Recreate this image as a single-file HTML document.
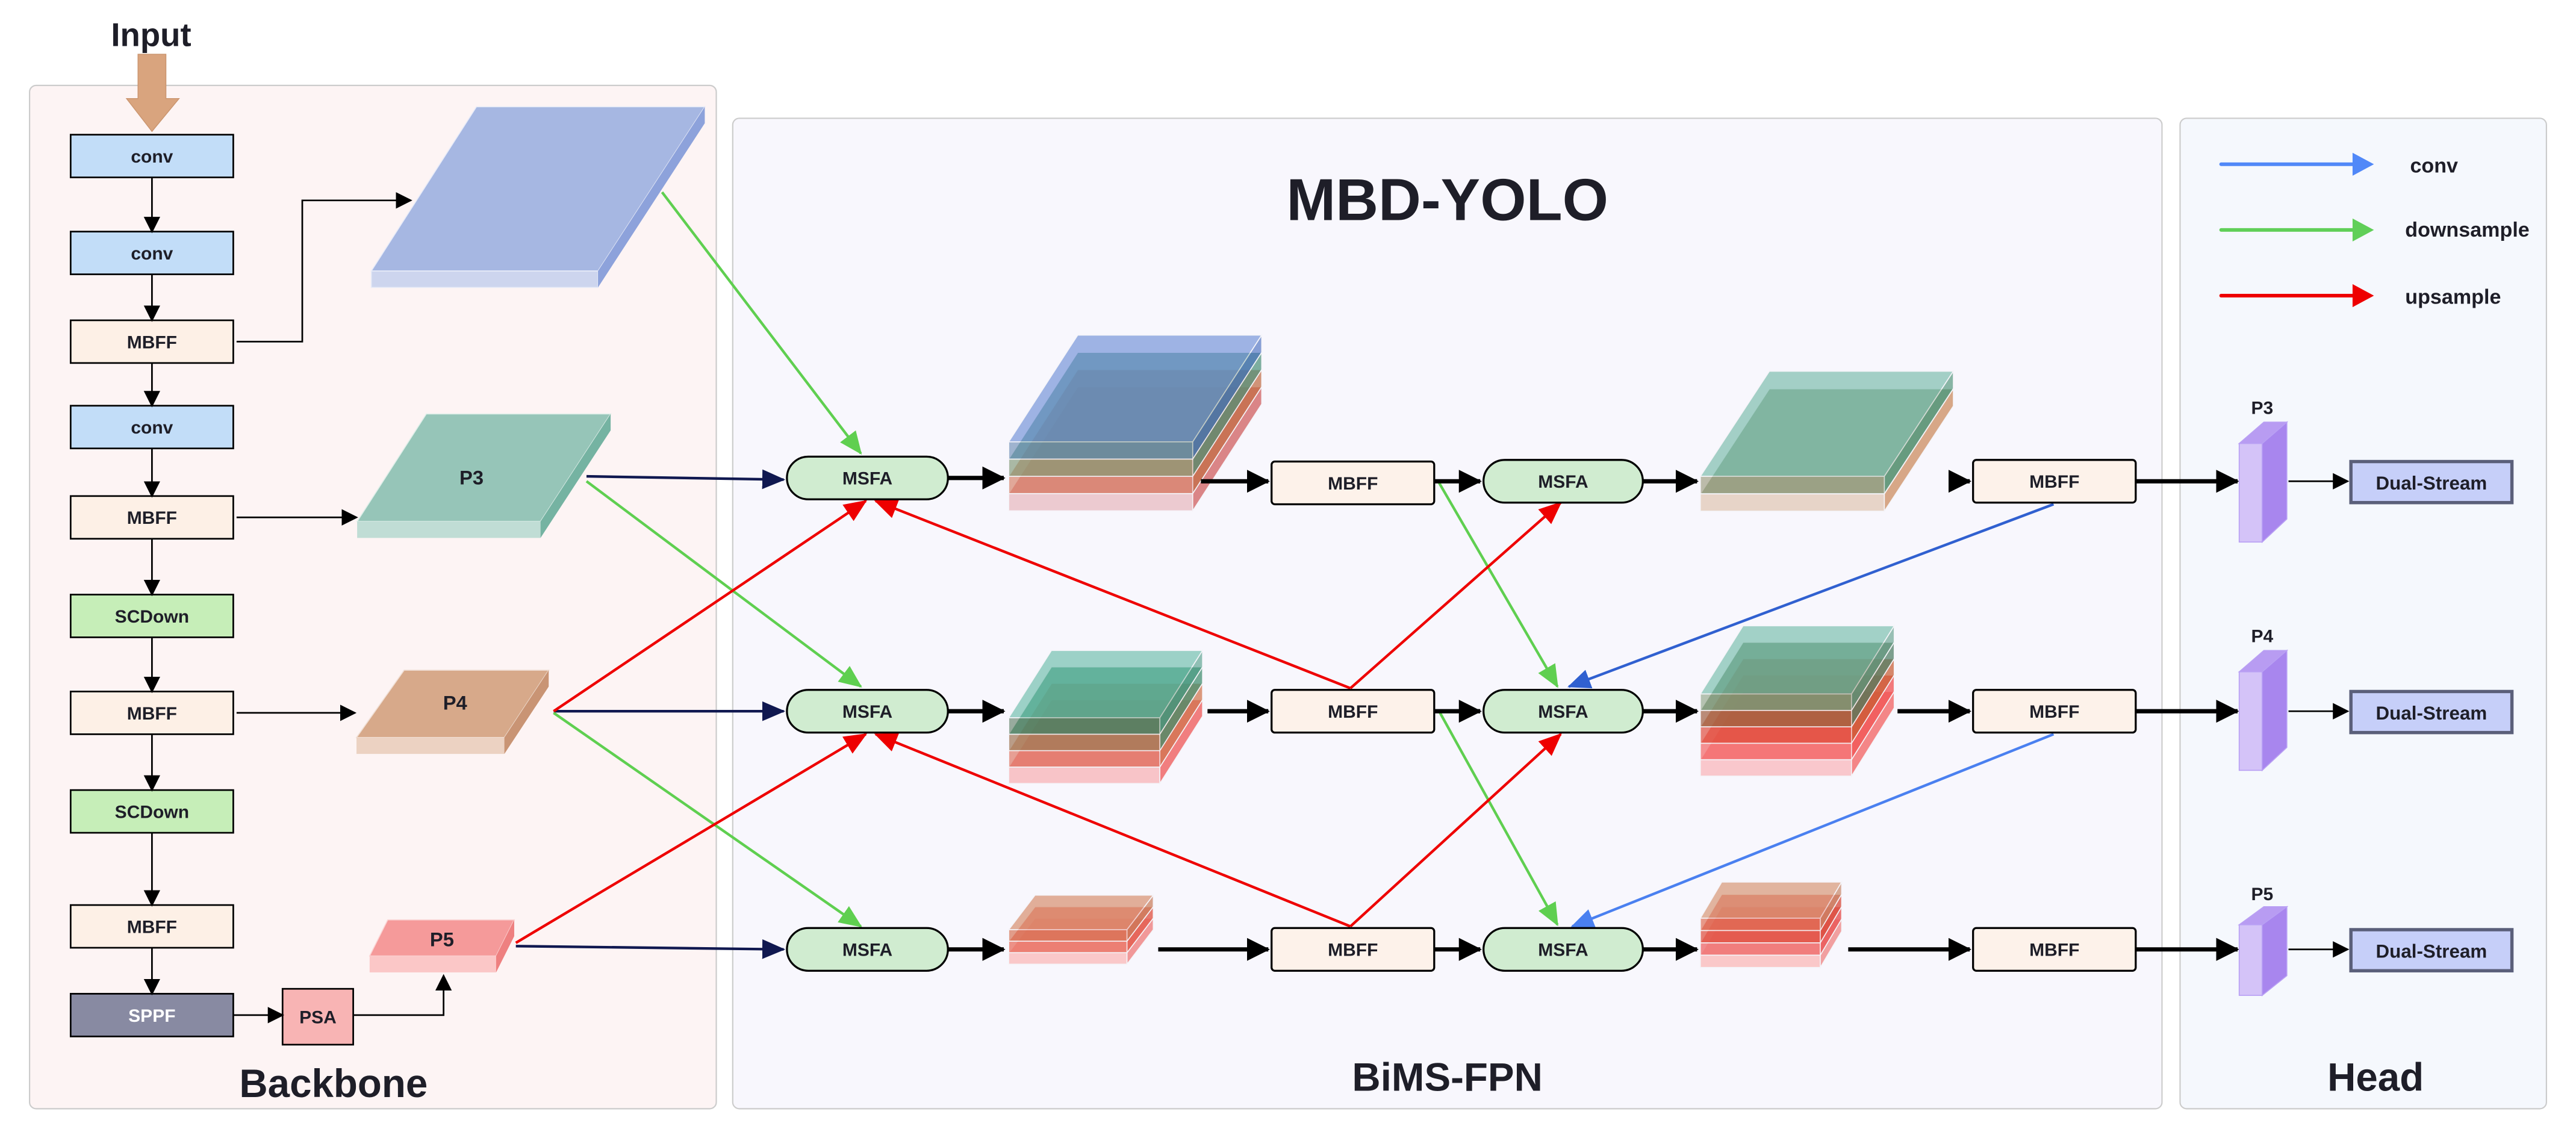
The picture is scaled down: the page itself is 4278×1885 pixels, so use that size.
<!DOCTYPE html>
<html><head><meta charset="utf-8"><style>
html,body{margin:0;padding:0;background:#fff;}
svg{display:block;}
text{font-family:"Liberation Sans",sans-serif;font-weight:bold;fill:#1e1e28;}
</style></head><body>
<svg width="4278" height="1885" viewBox="0 0 1568 691" preserveAspectRatio="none" xmlns="http://www.w3.org/2000/svg">
<defs>
<marker id="mk" markerUnits="userSpaceOnUse" markerWidth="10" markerHeight="10" refX="9" refY="5" orient="auto"><path d="M0,0 L10,5 L0,10 z" fill="#000"/></marker>
<marker id="mkb" markerUnits="userSpaceOnUse" markerWidth="14" markerHeight="14" refX="13" refY="7" orient="auto"><path d="M0,0 L14,7 L0,14 z" fill="#000"/></marker>
<marker id="mkn" markerUnits="userSpaceOnUse" markerWidth="14" markerHeight="12" refX="13" refY="6" orient="auto"><path d="M0,0 L14,6 L0,12 z" fill="#101850"/></marker>
<marker id="mkg" markerUnits="userSpaceOnUse" markerWidth="14" markerHeight="12" refX="13" refY="6" orient="auto"><path d="M0,0 L14,6 L0,12 z" fill="#5fcf50"/></marker>
<marker id="mkr" markerUnits="userSpaceOnUse" markerWidth="14" markerHeight="12" refX="13" refY="6" orient="auto"><path d="M0,0 L14,6 L0,12 z" fill="#ee0000"/></marker>
<marker id="mkbl" markerUnits="userSpaceOnUse" markerWidth="14" markerHeight="12" refX="13" refY="6" orient="auto"><path d="M0,0 L14,6 L0,12 z" fill="#3060d0"/></marker>
<marker id="mkbl2" markerUnits="userSpaceOnUse" markerWidth="14" markerHeight="12" refX="13" refY="6" orient="auto"><path d="M0,0 L14,6 L0,12 z" fill="#4a80f0"/></marker>
</defs>

<!-- panels -->
<rect x="18" y="52" width="418" height="623" rx="4" fill="#fdf4f4" stroke="#ccc" stroke-width="0.8"/>
<rect x="446" y="72" width="870" height="603" rx="4" fill="#f8f7fd" stroke="#ccc" stroke-width="0.8"/>
<rect x="1327" y="72" width="223" height="603" rx="4" fill="#f5f8fd" stroke="#ccc" stroke-width="0.8"/>

<!-- Input -->
<text x="92" y="28" font-size="20" text-anchor="middle">Input</text>
<polygon points="84,33 101,33 101,60 109,60 92.5,80 77,60 84,60" fill="#d9a47e" stroke="#c9946e" stroke-width="0.5"/>

<!-- backbone boxes -->
<g stroke="#000" stroke-width="1" font-size="11">
<rect x="43" y="82" width="99" height="26" fill="#c2ddf8"/>
<rect x="43" y="141" width="99" height="26" fill="#c2ddf8"/>
<rect x="43" y="195" width="99" height="26" fill="#fdf0e6"/>
<rect x="43" y="247" width="99" height="26" fill="#c2ddf8"/>
<rect x="43" y="302" width="99" height="26" fill="#fdf0e6"/>
<rect x="43" y="362" width="99" height="26" fill="#c6eeb8"/>
<rect x="43" y="421" width="99" height="26" fill="#fdf0e6"/>
<rect x="43" y="481" width="99" height="26" fill="#c6eeb8"/>
<rect x="43" y="551" width="99" height="26" fill="#fdf0e6"/>
<rect x="43" y="605" width="99" height="26" fill="#888aa2"/>
<rect x="172" y="602" width="43" height="34" fill="#f8b4b4"/>
</g>
<g font-size="11" text-anchor="middle">
<text x="92.5" y="99">conv</text>
<text x="92.5" y="158">conv</text>
<text x="92.5" y="212">MBFF</text>
<text x="92.5" y="264">conv</text>
<text x="92.5" y="319">MBFF</text>
<text x="92.5" y="379">SCDown</text>
<text x="92.5" y="438">MBFF</text>
<text x="92.5" y="498">SCDown</text>
<text x="92.5" y="568">MBFF</text>
<text x="92.5" y="622" style="fill:#fff">SPPF</text>
<text x="193.5" y="623">PSA</text>
</g>
<!-- backbone arrows -->
<g stroke="#000" stroke-width="1" fill="none" marker-end="url(#mk)">
<line x1="92.5" y1="108" x2="92.5" y2="141"/>
<line x1="92.5" y1="167" x2="92.5" y2="195"/>
<line x1="92.5" y1="221" x2="92.5" y2="247"/>
<line x1="92.5" y1="273" x2="92.5" y2="302"/>
<line x1="92.5" y1="328" x2="92.5" y2="362"/>
<line x1="92.5" y1="388" x2="92.5" y2="421"/>
<line x1="92.5" y1="447" x2="92.5" y2="481"/>
<line x1="92.5" y1="507" x2="92.5" y2="551"/>
<line x1="92.5" y1="577" x2="92.5" y2="605"/>
<polyline points="144,208 184,208 184,122 250,122"/>
<line x1="144" y1="315" x2="217" y2="315"/>
<line x1="144" y1="434" x2="216" y2="434"/>
<line x1="142" y1="618" x2="172" y2="618"/>
<polyline points="215,618 270,618 270,594"/>
</g>

<!-- slabs -->
<polygon points="290,65 429,65 364,165 226,165" fill="#a6b7e2" stroke="#e8ecf8" stroke-width="0.6"/>
<rect x="226" y="165" width="138" height="10" fill="#cdd5ee" stroke="#e8ecf8" stroke-width="0.6"/>
<polygon points="364,165 429,65 429,75 364,175" fill="#8da2db"/>

<polygon points="259.5,252 371.7,252 329,317.5 217.4,317.5" fill="#96c5b8" stroke="#e0efea" stroke-width="0.6"/>
<rect x="217.4" y="317.5" width="111.6" height="10" fill="#c0ddd5"/>
<polygon points="329,317.5 371.7,252 371.7,262 329,327.5" fill="#75b3a2"/>
<text x="287" y="295" font-size="12" text-anchor="middle">P3</text>

<polygon points="246,408 334,408 307,449 217,449" fill="#d7a98a" stroke="#f0e0d6" stroke-width="0.6"/>
<rect x="217" y="449" width="90" height="10" fill="#ecd2c2"/>
<polygon points="307,449 334,408 334,418 307,459" fill="#c99474"/>
<text x="277" y="432" font-size="12" text-anchor="middle">P4</text>

<polygon points="236,560 313,560 302,582 225,582" fill="#f59a9a" stroke="#fbd6d6" stroke-width="0.6"/>
<rect x="225" y="582" width="77" height="10" fill="#fbc7c7"/>
<polygon points="302,582 313,560 313,570 302,592" fill="#ee8080"/>
<text x="269" y="576" font-size="12" text-anchor="middle">P5</text>

<!-- titles -->
<text x="881" y="134" font-size="36" text-anchor="middle">MBD-YOLO</text>
<text x="881" y="664" font-size="24" text-anchor="middle">BiMS-FPN</text>
<text x="203" y="668" font-size="24" text-anchor="middle">Backbone</text>
<text x="1446" y="664" font-size="24" text-anchor="middle">Head</text>

<!-- stacks: S1 row1 (drawn bottom layer first) -->
<g stroke="#f4f4f8" stroke-width="0.6">
<g transform="translate(0,31.5)" opacity="0.75"><polygon points="656,204 768,204 726,269 614,269" fill="#d86868"/><rect x="614" y="269" width="112" height="10.5" fill="#e8bcc2"/><polygon points="726,269 768,204 768,214.5 726,279.5" fill="#d06060"/></g>
<g transform="translate(0,21)" opacity="0.7"><polygon points="656,204 768,204 726,269 614,269" fill="#c8704a"/><rect x="614" y="269" width="112" height="10.5" fill="#d88870"/><polygon points="726,269 768,204 768,214.5 726,279.5" fill="#c06a40"/></g>
<g transform="translate(0,10.5)" opacity="0.7"><polygon points="656,204 768,204 726,269 614,269" fill="#3e8870"/><rect x="614" y="269" width="112" height="10.5" fill="#8aa080"/><polygon points="726,269 768,204 768,214.5 726,279.5" fill="#4a9078"/></g>
<g opacity="0.65"><polygon points="656,204 768,204 726,269 614,269" fill="#6f90d8"/><rect x="614" y="269" width="112" height="10.5" fill="#7090b8"/><polygon points="726,269 768,204 768,214.5 726,279.5" fill="#4a70c0"/></g>
</g>

<!-- S1 row2 -->
<g stroke="#f4f4f8" stroke-width="0.6">
<g transform="translate(0,30)" opacity="0.8"><polygon points="640,396 732,396 706,437 614,437" fill="#f06e6e"/><rect x="614" y="437" width="92" height="10" fill="#f8b8bc"/><polygon points="706,437 732,396 732,406 706,447" fill="#f06060"/></g>
<g transform="translate(0,20)" opacity="0.7"><polygon points="640,396 732,396 706,437 614,437" fill="#d4845a"/><rect x="614" y="437" width="92" height="10" fill="#e07a68"/><polygon points="706,437 732,396 732,406 706,447" fill="#d07048"/></g>
<g transform="translate(0,10)" opacity="0.7"><polygon points="640,396 732,396 706,437 614,437" fill="#2f8a66"/><rect x="614" y="437" width="92" height="10" fill="#a07858"/><polygon points="706,437 732,396 732,406 706,447" fill="#3a8a6a"/></g>
<g opacity="0.6"><polygon points="640,396 732,396 706,437 614,437" fill="#60b8a4"/><rect x="614" y="437" width="92" height="10" fill="#5a7a60"/><polygon points="706,437 732,396 732,406 706,447" fill="#4a9a84"/></g>
</g>

<!-- S1 row3 -->
<g stroke="#f4f4f8" stroke-width="0.6">
<g transform="translate(0,14)" opacity="0.85"><polygon points="630,545 702,545 686,566 614,566" fill="#f8a0a0"/><rect x="614" y="566" width="72" height="7" fill="#fbc0c0"/><polygon points="686,566 702,545 702,552 686,573" fill="#f08888"/></g>
<g transform="translate(0,7)" opacity="0.75"><polygon points="630,545 702,545 686,566 614,566" fill="#e65a48"/><rect x="614" y="566" width="72" height="7" fill="#e87060"/><polygon points="686,566 702,545 702,552 686,573" fill="#e05040"/></g>
<g opacity="0.7"><polygon points="630,545 702,545 686,566 614,566" fill="#d89070"/><rect x="614" y="566" width="72" height="7" fill="#d8785a"/><polygon points="686,566 702,545 702,552 686,573" fill="#c87a58"/></g>
</g>

<!-- S2 row1 -->
<g stroke="#f4f4f8" stroke-width="0.6">
<g transform="translate(0,10.7)" opacity="0.8"><polygon points="1077,226 1189,226 1147,290 1035,290" fill="#6a8a60"/><rect x="1035" y="290" width="112" height="10.5" fill="#e4ccbc"/><polygon points="1147,290 1189,226 1189,236.5 1147,300.5" fill="#d0946a"/></g>
<g opacity="0.7"><polygon points="1077,226 1189,226 1147,290 1035,290" fill="#80bfb0"/><rect x="1035" y="290" width="112" height="10.5" fill="#a4a288"/><polygon points="1147,290 1189,226 1189,236.5 1147,300.5" fill="#5a9a80"/></g>
</g>

<!-- S2 row2 -->
<g stroke="#f4f4f8" stroke-width="0.6">
<g transform="translate(0,40)" opacity="0.8"><polygon points="1061,381 1153,381 1127,422.5 1035,422.5" fill="#f87878"/><rect x="1035" y="422.5" width="92" height="10" fill="#fabcc0"/><polygon points="1127,422.5 1153,381 1153,391 1127,432.5" fill="#f46a6a"/></g>
<g transform="translate(0,30)" opacity="0.75"><polygon points="1061,381 1153,381 1127,422.5 1035,422.5" fill="#f05a50"/><rect x="1035" y="422.5" width="92" height="10" fill="#f46e6e"/><polygon points="1127,422.5 1153,381 1153,391 1127,432.5" fill="#f05050"/></g>
<g transform="translate(0,20)" opacity="0.7"><polygon points="1061,381 1153,381 1127,422.5 1035,422.5" fill="#c86a40"/><rect x="1035" y="422.5" width="92" height="10" fill="#e05040"/><polygon points="1127,422.5 1153,381 1153,391 1127,432.5" fill="#c85a30"/></g>
<g transform="translate(0,10)" opacity="0.7"><polygon points="1061,381 1153,381 1127,422.5 1035,422.5" fill="#5a7a58"/><rect x="1035" y="422.5" width="92" height="10" fill="#a05e40"/><polygon points="1127,422.5 1153,381 1153,391 1127,432.5" fill="#4a7a60"/></g>
<g opacity="0.6"><polygon points="1061,381 1153,381 1127,422.5 1035,422.5" fill="#6ab8a4"/><rect x="1035" y="422.5" width="92" height="10" fill="#8aa080"/><polygon points="1127,422.5 1153,381 1153,391 1127,432.5" fill="#5a9a84"/></g>
</g>

<!-- S2 row3 -->
<g stroke="#f4f4f8" stroke-width="0.6">
<g transform="translate(0,22.5)" opacity="0.85"><polygon points="1048,537 1121,537 1108,559 1035,559" fill="#f8a8a8"/><rect x="1035" y="559" width="73" height="7.5" fill="#fbc0c0"/><polygon points="1108,559 1121,537 1121,544.5 1108,566.5" fill="#f09090"/></g>
<g transform="translate(0,15)" opacity="0.8"><polygon points="1048,537 1121,537 1108,559 1035,559" fill="#f06060"/><rect x="1035" y="559" width="73" height="7.5" fill="#f07070"/><polygon points="1108,559 1121,537 1121,544.5 1108,566.5" fill="#e85050"/></g>
<g transform="translate(0,7.5)" opacity="0.75"><polygon points="1048,537 1121,537 1108,559 1035,559" fill="#e05040"/><rect x="1035" y="559" width="73" height="7.5" fill="#e05545"/><polygon points="1108,559 1121,537 1121,544.5 1108,566.5" fill="#d84838"/></g>
<g opacity="0.7"><polygon points="1048,537 1121,537 1108,559 1035,559" fill="#d89878"/><rect x="1035" y="559" width="73" height="7.5" fill="#e07058"/><polygon points="1108,559 1121,537 1121,544.5 1108,566.5" fill="#c88868"/></g>
</g>

<!-- colored connectors -->
<g stroke-width="1.6" fill="none">
<line x1="357" y1="290" x2="477" y2="292" stroke="#101850" marker-end="url(#mkn)"/>
<line x1="337" y1="433" x2="477" y2="433" stroke="#101850" marker-end="url(#mkn)"/>
<line x1="314" y1="576" x2="477" y2="578" stroke="#101850" marker-end="url(#mkn)"/>

<line x1="403" y1="117" x2="524" y2="276" stroke="#5fcf50" marker-end="url(#mkg)"/>
<line x1="357" y1="293" x2="524" y2="418" stroke="#5fcf50" marker-end="url(#mkg)"/>
<line x1="337" y1="434" x2="524" y2="564" stroke="#5fcf50" marker-end="url(#mkg)"/>
<line x1="876" y1="294" x2="948" y2="418" stroke="#5fcf50" marker-end="url(#mkg)"/>
<line x1="876" y1="433" x2="948" y2="563" stroke="#5fcf50" marker-end="url(#mkg)"/>

<line x1="337" y1="433" x2="527" y2="305" stroke="#ee0000" marker-end="url(#mkr)"/>
<line x1="314" y1="574" x2="527" y2="447" stroke="#ee0000" marker-end="url(#mkr)"/>
<line x1="822" y1="419" x2="533" y2="305" stroke="#ee0000" marker-end="url(#mkr)"/>
<line x1="822" y1="564" x2="533" y2="447" stroke="#ee0000" marker-end="url(#mkr)"/>
<line x1="822" y1="419" x2="950" y2="306" stroke="#ee0000" marker-end="url(#mkr)"/>
<line x1="822" y1="564" x2="950" y2="447" stroke="#ee0000" marker-end="url(#mkr)"/>

<line x1="1250" y1="307" x2="955" y2="418" stroke="#3060d0" marker-end="url(#mkbl)"/>
<line x1="1250" y1="447" x2="957" y2="564" stroke="#4a80f0" marker-end="url(#mkbl2)"/>
</g>

<!-- black thick arrows -->
<g stroke="#000" stroke-width="2.6" fill="none" marker-end="url(#mkb)">
<line x1="577" y1="291" x2="611" y2="291"/>
<line x1="577" y1="433" x2="611" y2="433"/>
<line x1="577" y1="578" x2="611" y2="578"/>
<line x1="731" y1="293" x2="772" y2="293"/>
<line x1="735" y1="433" x2="772" y2="433"/>
<line x1="705" y1="578" x2="772" y2="578"/>
<line x1="873" y1="293" x2="901" y2="293"/>
<line x1="873" y1="433" x2="901" y2="433"/>
<line x1="873" y1="578" x2="901" y2="578"/>
<line x1="1000" y1="293" x2="1033" y2="293"/>
<line x1="1000" y1="433" x2="1033" y2="433"/>
<line x1="1000" y1="578" x2="1033" y2="578"/>
<line x1="1187" y1="293" x2="1199" y2="293"/>
<line x1="1155" y1="433" x2="1199" y2="433"/>
<line x1="1125" y1="578" x2="1199" y2="578"/>
<line x1="1300" y1="293" x2="1362" y2="293"/>
<line x1="1300" y1="433" x2="1362" y2="433"/>
<line x1="1300" y1="578" x2="1362" y2="578"/>
</g>

<!-- MSFA / MBFF nodes -->
<g stroke="#000" stroke-width="1.2">
<rect x="479" y="278" width="98" height="26" rx="13" fill="#d0ecd0"/>
<rect x="479" y="420" width="98" height="26" rx="13" fill="#d0ecd0"/>
<rect x="479" y="565" width="98" height="26" rx="13" fill="#d0ecd0"/>
<rect x="903" y="280" width="97" height="26" rx="13" fill="#d0ecd0"/>
<rect x="903" y="420" width="97" height="26" rx="13" fill="#d0ecd0"/>
<rect x="903" y="565" width="97" height="26" rx="13" fill="#d0ecd0"/>
<rect x="774" y="281" width="99" height="26" rx="2" fill="#fdf2ea"/>
<rect x="774" y="420" width="99" height="26" rx="2" fill="#fdf2ea"/>
<rect x="774" y="565" width="99" height="26" rx="2" fill="#fdf2ea"/>
<rect x="1201" y="280" width="99" height="26" rx="2" fill="#fdf2ea"/>
<rect x="1201" y="420" width="99" height="26" rx="2" fill="#fdf2ea"/>
<rect x="1201" y="565" width="99" height="26" rx="2" fill="#fdf2ea"/>
</g>
<g font-size="11" text-anchor="middle">
<text x="528" y="295">MSFA</text>
<text x="528" y="437">MSFA</text>
<text x="528" y="582">MSFA</text>
<text x="951.5" y="297">MSFA</text>
<text x="951.5" y="437">MSFA</text>
<text x="951.5" y="582">MSFA</text>
<text x="823.5" y="298">MBFF</text>
<text x="823.5" y="437">MBFF</text>
<text x="823.5" y="582">MBFF</text>
<text x="1250.5" y="297">MBFF</text>
<text x="1250.5" y="437">MBFF</text>
<text x="1250.5" y="582">MBFF</text>
</g>

<!-- legend -->
<g stroke-width="2.2" stroke-linecap="round">
<line x1="1352" y1="100" x2="1434" y2="100" stroke="#5088f8"/>
<line x1="1352" y1="140" x2="1434" y2="140" stroke="#60cf58"/>
<line x1="1352" y1="180" x2="1434" y2="180" stroke="#ee0000"/>
</g>
<polygon points="1432,93 1445,100 1432,107" fill="#5088f8"/>
<polygon points="1432,133 1445,140 1432,147" fill="#60cf58"/>
<polygon points="1432,173 1445,180 1432,187" fill="#ee0000"/>
<g font-size="12.5">
<text x="1467" y="105">conv</text>
<text x="1464" y="144">downsample</text>
<text x="1464" y="185">upsample</text>
</g>

<!-- head prisms -->
<g stroke="#b9a0f4" stroke-width="0.6">
<polygon points="1363,270 1378,257 1392,257 1377,270" fill="#b89cf2"/>
<rect x="1363" y="270" width="14" height="60" fill="#d4c3f8"/>
<polygon points="1377,270 1392,257 1392,316 1377,330" fill="#a886ee"/>
<polygon points="1363,409 1378,396 1392,396 1377,409" fill="#b89cf2"/>
<rect x="1363" y="409" width="14" height="60" fill="#d4c3f8"/>
<polygon points="1377,409 1392,396 1392,455 1377,469" fill="#a886ee"/>
<polygon points="1363,563 1378,552 1392,552 1377,563" fill="#b89cf2"/>
<rect x="1363" y="563" width="14" height="43" fill="#d4c3f8"/>
<polygon points="1377,563 1392,552 1392,594 1377,606" fill="#a886ee"/>
</g>
<g font-size="11" text-anchor="middle">
<text x="1377" y="252">P3</text>
<text x="1377" y="391">P4</text>
<text x="1377" y="548">P5</text>
</g>
<g stroke="#000" stroke-width="1" marker-end="url(#mk)">
<line x1="1393" y1="293" x2="1429" y2="293"/>
<line x1="1393" y1="433" x2="1429" y2="433"/>
<line x1="1393" y1="578" x2="1429" y2="578"/>
</g>
<g fill="#c6cff9" stroke="#5a5f7a" stroke-width="2">
<rect x="1431" y="281" width="98" height="25"/>
<rect x="1431" y="421" width="98" height="25"/>
<rect x="1431" y="566" width="98" height="25"/>
</g>
<g font-size="11.5" text-anchor="middle">
<text x="1480" y="298">Dual-Stream</text>
<text x="1480" y="438">Dual-Stream</text>
<text x="1480" y="583">Dual-Stream</text>
</g>
</svg>
</body></html>
